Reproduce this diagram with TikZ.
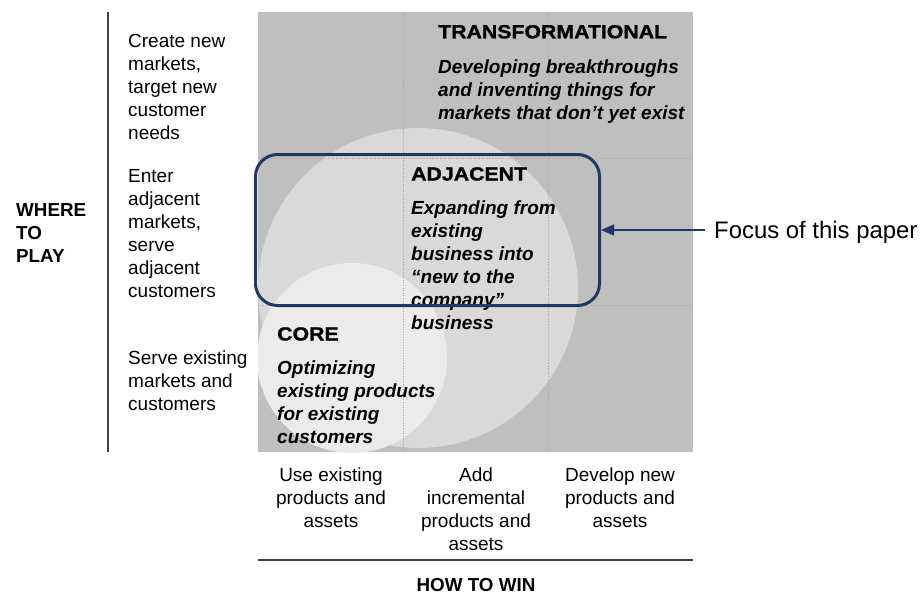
\documentclass[tikz,border=0pt]{standalone}
\usepackage{fontspec}
\setmainfont{Liberation Sans}
\newfontfamily\heavyfont{Liberation Sans Bold}[FakeStretch=1.12, FakeBold=1.2]
\usetikzlibrary{arrows.meta}
\definecolor{bgsq}{HTML}{BFBFBF}
\definecolor{midcirc}{HTML}{D9D9D9}
\definecolor{corecirc}{HTML}{EBEBEB}
\definecolor{gridc}{HTML}{A6A6A6}
\definecolor{navy}{HTML}{1F3864}
\definecolor{axisc}{HTML}{404040}
\tikzset{
  plain/.style={inner sep=0pt, font=\fontsize{19}{23}\selectfont, align=left, anchor=base west},
  plainc/.style={inner sep=0pt, font=\fontsize{19}{23}\selectfont, align=center, anchor=base},
  axislabel/.style={inner sep=0pt, font=\fontsize{18.8}{23}\selectfont\bfseries, align=left, anchor=base west},
  heading/.style={inner sep=0pt, font=\fontsize{19}{23}\selectfont\heavyfont, anchor=base west},
  desc/.style={inner sep=0pt, font=\fontsize{19}{23}\selectfont\bfseries\itshape, align=left, anchor=base west},
  gridline/.style={gridc, line width=0.6pt, dotted},
  axisline/.style={axisc, line width=1.5pt},
  focusbox/.style={draw=navy, line width=3pt, rounded corners=22pt, minimum width=344pt, minimum height=151pt, inner sep=0pt},
}
\begin{document}
\begin{tikzpicture}[x=1pt,y=-1pt]
\useasboundingbox (0,0) rectangle (923,595);
% matrix background
\fill[bgsq] (258,12) rectangle (693,452);
\begin{scope}
  \clip (258,12) rectangle (693,452);
  \fill[midcirc] (418,288) circle[radius=160pt];
  \fill[corecirc] (352,358) circle[radius=95pt];
\end{scope}
% grid
\draw[gridline] (403,12) -- (403,452);
\draw[gridline] (548,12) -- (548,452);
\draw[gridline] (258,158) -- (693,158);
\draw[gridline] (258,305) -- (693,305);
% axes
\draw[axisline] (108,12) -- (108,452);
\draw[axisline] (258,560) -- (693,560);
% left labels (base anchor = baseline of last line)
\node[axislabel] (wtp) at (16,262.7) {WHERE\\TO\\PLAY};
\node[plain] (rowtop) at (128,139.7) {Create new\\markets,\\target new\\customer\\needs};
\node[plain] (rowmid) at (128,297.5) {Enter\\adjacent\\markets,\\serve\\adjacent\\customers};
\node[plain] (rowbot) at (128,410.5) {Serve existing\\markets and\\customers};
% bottom labels
\node[plainc] (colleft) at (331,527.5) {Use existing\\products and\\assets};
\node[plainc] (colmid) at (476,550.5) {Add\\incremental\\products and\\assets};
\node[plainc] (colright) at (620,527.5) {Develop new\\products and\\assets};
\node[axislabel, anchor=base] (htw) at (476,591.5) {HOW TO WIN};
% quadrant texts
\node[heading] (transh) at (438,38.3) {TRANSFORMATIONAL};
\node[desc] (transd) at (438,119.5) {Developing breakthroughs\\and inventing things for\\markets that don’t yet exist};
\node[heading] (adjh) at (411,180.5) {ADJACENT};
\node[desc] (adjd) at (411,329.5) {Expanding from\\existing\\business into\\“new to the\\company”\\business};
\node[heading] (coreh) at (277,340.5) {CORE};
\node[desc] (cored) at (277,443) {Optimizing\\existing products\\for existing\\customers};
% focus box and arrow
\node[focusbox] (focus) at (427.5,230) {};
\node[inner sep=0pt, anchor=base west, font=\fontsize{23.9}{28}\selectfont] (focuslabel) at (714,238.7) {Focus of this paper};
\coordinate (arrowstart) at (705,230);
\draw[navy, line width=1.3pt, -{Triangle[length=13pt, width=11pt]}] (arrowstart) -- (focus.east);
\end{tikzpicture}
\end{document}
